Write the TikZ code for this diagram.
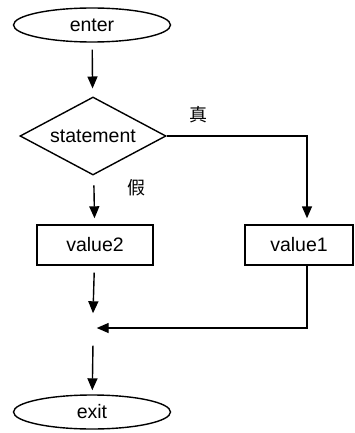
\documentclass[tikz,border=0pt]{standalone}
\usepackage{fontspec}
\setmainfont{Liberation Sans}
\newfontfamily\cjk{Noto Sans CJK SC}
\usetikzlibrary{arrows.meta, shapes.geometric}

\begin{document}
\begin{tikzpicture}[x=1pt, y=-1pt, >={Triangle[length=12pt, width=10pt]},
    line width=1.4pt, font=\fontsize{19.5}{23}\selectfont,
    term/.style={draw, ellipse, inner sep=0pt, minimum width=157pt, minimum height=34pt},
    test/.style={draw, diamond, aspect=1.87, inner sep=0pt, minimum width=146pt, minimum height=78pt},
    box/.style={draw, rectangle, inner sep=0pt, minimum height=40pt},
    flow/.style={->, shorten <=7pt, shorten >=8pt}]
  \useasboundingbox (0,0) rectangle (354,433);
  % shapes
  \node[term] (enter) at (92,25) {enter};
  \node[test] (cond) at (93,136) {statement};
  \node[box, minimum width=116pt] (v2) at (95,245) {value2};
  \node[box, minimum width=108pt] (v1) at (299,245) {value1};
  \node[inner sep=0pt, minimum width=6pt, minimum height=28pt] (join) at (93,328) {};
  \node[term] (exit) at (92,412) {exit};
  % branch labels
  \node[font=\cjk\fontsize{18}{22}\selectfont] (yes) at (198,115) {真};
  \node[font=\cjk\fontsize{18}{22}\selectfont] (no) at (136,188) {假};
  % connectors
  \coordinate (turn) at (307,136);
  \draw[flow] (enter) -- (cond);
  \draw[flow, shorten <=10pt, shorten >=6pt] (cond) -- (v2);
  \draw[->, shorten >=6pt] (cond.east) -- (turn) -- (v1.north -| turn);
  \draw[flow, shorten >=0pt] (v2) -- (join.north);
  \draw[->] (v1.south -| turn) |- (join.east);
  \draw[flow, shorten <=3pt, shorten >=4pt] (join.south) -- (exit);
\end{tikzpicture}
\end{document}
